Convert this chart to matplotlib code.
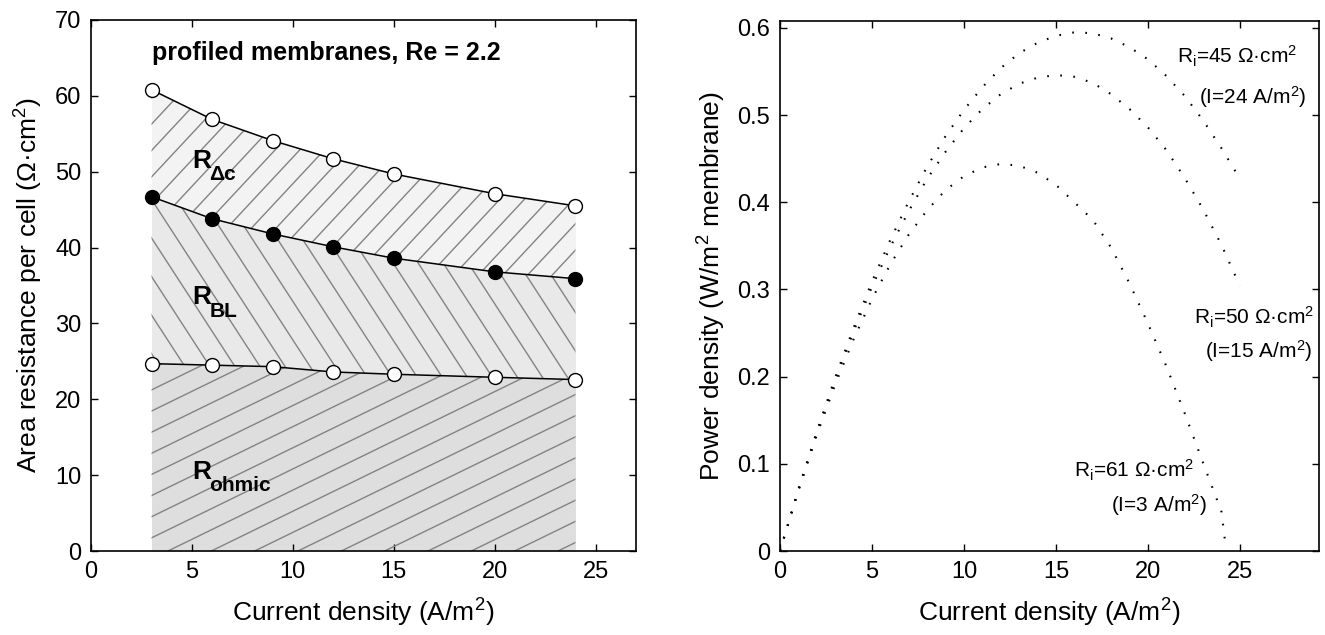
import numpy as np
import matplotlib
matplotlib.use('Agg')
import matplotlib.pyplot as plt
from matplotlib.collections import LineCollection
from matplotlib.ticker import FuncFormatter, MultipleLocator

plt.rcParams['font.family'] = ['Liberation Sans', 'DejaVu Sans']
plt.rcParams['mathtext.fontset'] = 'custom'
plt.rcParams['mathtext.rm'] = 'Liberation Sans'
plt.rcParams['mathtext.it'] = 'Liberation Sans'
plt.rcParams['mathtext.bf'] = 'Liberation Sans:bold'

# resistance components per cell, profiled membranes
current = [3, 6, 9, 12, 15, 20, 24]
r_total = [60.8, 56.9, 54.1, 51.7, 49.7, 47.1, 45.5]
r_ohmic_bl = [46.7, 43.8, 41.8, 40.1, 38.6, 36.8, 35.9]
r_ohmic = [24.7, 24.5, 24.3, 23.6, 23.3, 22.9, 22.6]

# power density curves for three internal resistances
i_45 = list(range(0, 26))
p_45 = [0, 0.071, 0.137, 0.199, 0.256, 0.309, 0.357, 0.401, 0.441, 0.476,
        0.506, 0.532, 0.554, 0.571, 0.583, 0.591, 0.595, 0.594, 0.588, 0.578,
        0.564, 0.545, 0.522, 0.494, 0.462, 0.427]
i_50 = list(range(0, 26))
p_50 = [0, 0.070, 0.136, 0.196, 0.252, 0.303, 0.349, 0.390, 0.427, 0.458,
        0.485, 0.507, 0.524, 0.536, 0.543, 0.546, 0.544, 0.537, 0.524, 0.507,
        0.486, 0.460, 0.428, 0.392, 0.351, 0.304]
i_61 = list(range(0, 25)) + [24.2]
p_61 = [0, 0.069, 0.133, 0.191, 0.243, 0.289, 0.329, 0.363, 0.391, 0.414,
        0.430, 0.440, 0.444, 0.442, 0.434, 0.420, 0.400, 0.380, 0.348, 0.307,
        0.261, 0.212, 0.158, 0.101, 0.045, 0.010]


def hatch(ax, fill, angle, spacing, color='#838383', lw=1.0):
    # parallel lines drawn in pixel space, clipped to the filled area
    bb = ax.get_window_extent()
    w, h = bb.width, bb.height
    a = np.deg2rad(angle)
    d = np.array([np.cos(a), np.sin(a)])
    n = np.array([-np.sin(a), np.cos(a)])
    c = np.array([w / 2, h / 2])
    L = np.hypot(w, h)
    segs = []
    for t in np.arange(-L, L, spacing):
        p = c + t * n
        p0, p1 = p - L * d, p + L * d
        segs.append([(p0[0] / w, p0[1] / h), (p1[0] / w, p1[1] / h)])
    lc = LineCollection(segs, colors=color, linewidths=lw, transform=ax.transAxes)
    ax.add_collection(lc)
    lc.set_clip_path(fill.get_paths()[0], ax.transData)


def region_label(ax, x, y, sub):
    # bold R with a dropped subscript
    ax.text(x, y, 'R', fontsize=19, fontweight='bold', va='baseline')
    ax.annotate(sub, (x, y), xytext=(12.5, -9), textcoords='offset points',
                fontsize=15, fontweight='bold', va='baseline')


def style_axes(ax):
    ax.tick_params(direction='in', top=True, right=True, length=5, width=1,
                   labelsize=17, pad=7)
    for s in ax.spines.values():
        s.set_linewidth(1.2)


fig = plt.figure(figsize=(13.25, 6.35), dpi=100)
ax1 = fig.add_axes([91 / 1325, 84 / 635, 545 / 1325, 531 / 635])
ax2 = fig.add_axes([780 / 1325, 84 / 635, 539 / 1325, 530 / 635])

# left: stacked resistance areas
ax1.set_xlim(0, 27)
ax1.set_ylim(0, 70)
f1 = ax1.fill_between(current, 0, r_ohmic, color='#dedede', lw=0)
f2 = ax1.fill_between(current, r_ohmic, r_ohmic_bl, color='#e9e9e9', lw=0)
f3 = ax1.fill_between(current, r_ohmic_bl, r_total, color='#f3f3f3', lw=0)
hatch(ax1, f1, 26, 19)
hatch(ax1, f2, -57, 21)
hatch(ax1, f3, 47, 18)

ax1.plot(current, r_total, '-', color='k', lw=1.1, marker='o', ms=10,
         mfc='white', mec='k', mew=1)
ax1.plot(current, r_ohmic_bl, '-', color='k', lw=1.1, marker='o', ms=10,
         mfc='black', mec='k', mew=1)
ax1.plot(current, r_ohmic, '-', color='k', lw=1.1, marker='o', ms=10,
         mfc='white', mec='k', mew=1)

ax1.text(3.0, 64.7, 'profiled membranes, Re = 2.2', fontsize=18,
         fontweight='bold', ha='left', va='baseline')
region_label(ax1, 5.0, 50.5, 'Δc')
region_label(ax1, 5.0, 32.5, 'BL')
region_label(ax1, 5.0, 9.5, 'ohmic')

ax1.xaxis.set_major_locator(MultipleLocator(5))
ax1.yaxis.set_major_locator(MultipleLocator(10))
ax1.set_xlabel(r'Current density (A/m$^\mathregular{2}$)', fontsize=19, labelpad=10)
ax1.set_ylabel(r'Area resistance per cell (Ω·cm$^\mathregular{2}$)', fontsize=19,
               labelpad=7)
style_axes(ax1)

# right: power density curves
dots = (0, (0.8, 5.5))
for i_vals, p_vals in [(i_45, p_45), (i_50, p_50), (i_61, p_61)]:
    ax2.plot(i_vals, p_vals, color='k', lw=1.5, linestyle=dots)

ax2.set_xlim(0, 29.3)
ax2.set_ylim(0, 0.608)
ax2.xaxis.set_major_locator(MultipleLocator(5))
ax2.yaxis.set_major_locator(MultipleLocator(0.1))
ax2.yaxis.set_major_formatter(FuncFormatter(lambda v, pos: f'{v:g}'))

fs = 15
ax2.text(21.6, 0.567, r'R$_\mathregular{i}$=45 Ω·cm$^\mathregular{2}$', fontsize=fs, va='center')
ax2.text(22.8, 0.521, r'(I=24 A/m$^\mathregular{2}$)', fontsize=fs, va='center')
ax2.text(22.5, 0.268, r'R$_\mathregular{i}$=50 Ω·cm$^\mathregular{2}$', fontsize=fs, va='center')
ax2.text(23.1, 0.229, r'(I=15 A/m$^\mathregular{2}$)', fontsize=fs, va='center')
ax2.text(16.0, 0.093, r'R$_\mathregular{i}$=61 Ω·cm$^\mathregular{2}$', fontsize=fs, va='center')
ax2.text(18.0, 0.053, r'(I=3 A/m$^\mathregular{2}$)', fontsize=fs, va='center')

ax2.set_xlabel(r'Current density (A/m$^\mathregular{2}$)', fontsize=19, labelpad=10)
ax2.set_ylabel(r'Power density (W/m$^\mathregular{2}$ membrane)', fontsize=19,
               labelpad=7)
style_axes(ax2)

fig.savefig('out.png', dpi=100)
